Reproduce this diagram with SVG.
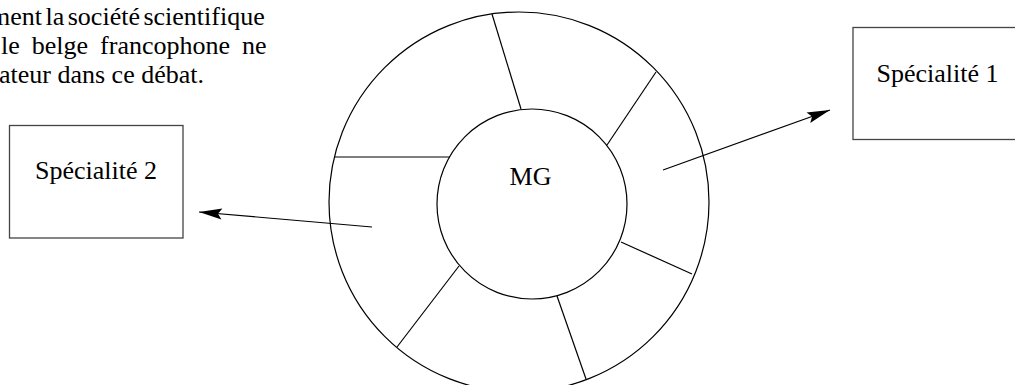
<svg xmlns="http://www.w3.org/2000/svg" width="1015" height="385" viewBox="0 0 1015 385">
<style>
.ln{fill:none;stroke:#000;stroke-width:1.2}
.bx{fill:#fff;stroke:#444;stroke-width:1.3}
.t{font-family:"Liberation Serif","Times New Roman",serif;font-size:26px;fill:#000}
</style>
<defs>
<marker id="ah" markerUnits="userSpaceOnUse" markerWidth="28" markerHeight="14" viewBox="-25 -7 27 14" refX="0" refY="0" orient="auto">
<path d="M0,0 L-23,-5.5 L-19,0 L-23,5.5 Z" fill="#000"/>
</marker>
</defs>
<rect width="1015" height="385" fill="#fff"/>
<g id="paragraph">
<text class="t" x="-10" y="25" word-spacing="-3">ment la société scientifique</text>
<text class="t" x="1" y="54" word-spacing="5.5">le belge francophone ne</text>
<text class="t" x="204" y="83" text-anchor="end">ateur dans ce débat.</text>
</g>
<g id="ring">
<circle class="ln" cx="519" cy="202" r="190"/>
<g id="spokes">
<line class="ln" x1="492" y1="14" x2="521" y2="109"/>
<line class="ln" x1="656" y1="72" x2="607" y2="145"/>
<line class="ln" x1="335" y1="157" x2="450" y2="157"/>
<line class="ln" x1="621" y1="242" x2="692" y2="274"/>
<line class="ln" x1="557" y1="296" x2="586" y2="379"/>
<line class="ln" x1="459" y1="266" x2="397" y2="347"/>
</g>
</g>
<g id="MG">
<circle class="ln" cx="532" cy="204" r="95" fill="#fff"/>
<text class="t" x="530.5" y="185" text-anchor="middle">MG</text>
</g>
<g id="specialite1">
<rect class="bx" x="853" y="27.5" width="170" height="112"/>
<text class="t" x="937.5" y="82" text-anchor="middle">Spécialité 1</text>
</g>
<g id="specialite2">
<rect class="bx" x="9.5" y="125.5" width="173.5" height="112.5"/>
<text class="t" x="96" y="179" text-anchor="middle">Spécialité 2</text>
</g>
<g id="connectors">
<line class="ln" x1="663" y1="170" x2="830" y2="110" marker-end="url(#ah)"/>
<line class="ln" x1="372" y1="227" x2="199" y2="212" marker-end="url(#ah)"/>
</g>
</svg>
